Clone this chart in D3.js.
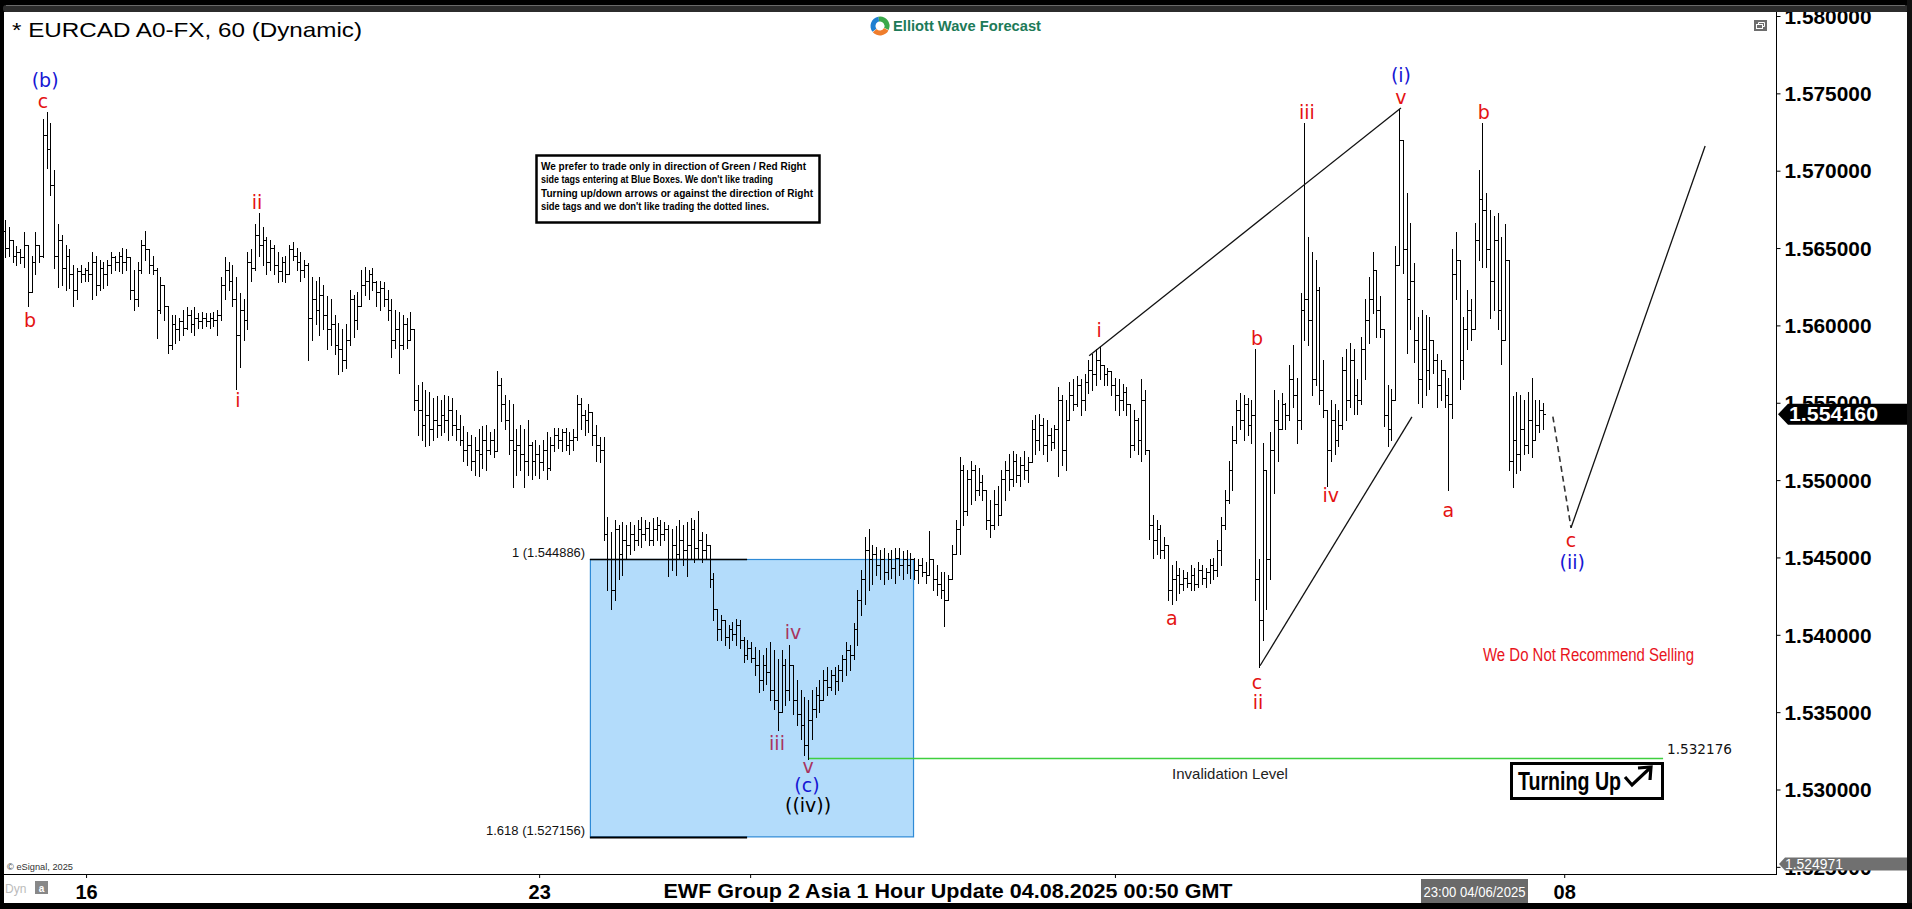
<!DOCTYPE html>
<html>
<head>
<meta charset="utf-8">
<title>EURCAD 1 Hour</title>
<script src="https://cdn.jsdelivr.net/npm/d3@7/dist/d3.min.js"></script>
<style>
html,body{margin:0;padding:0;background:#000;overflow:hidden;}
svg{display:block;}
</style>
</head>
<body>
<svg id="chart" width="1912" height="909"></svg>
<script>
// ---------------- DATA (hourly OHLC bars) ----------------
const opens = [
1.5659,1.5648,1.5653,1.5643,1.5645,1.5642,1.5650,1.5620,1.5639,1.5650,
1.5643,1.5720,1.5711,1.5688,1.5643,1.5653,1.5635,1.5643,1.5631,1.5621,
1.5633,1.5631,1.5634,1.5631,1.5639,1.5624,1.5635,1.5631,1.5637,1.5642,
1.5639,1.5643,1.5639,1.5642,1.5621,1.5615,1.5634,1.5650,1.5647,1.5637,
1.5634,1.5608,1.5624,1.5611,1.5586,1.5599,1.5596,1.5601,1.5597,1.5605,
1.5599,1.5603,1.5601,1.5603,1.5601,1.5603,1.5602,1.5605,1.5624,1.5634,
1.5627,1.5615,1.5592,1.5608,1.5602,1.5639,1.5635,1.5656,1.5650,1.5653,
1.5639,1.5648,1.5637,1.5633,1.5639,1.5631,1.5647,1.5643,1.5639,1.5634,
1.5637,1.5603,1.5615,1.5608,1.5618,1.5605,1.5596,1.5599,1.5586,1.5583,
1.5576,1.5589,1.5615,1.5602,1.5611,1.5624,1.5627,1.5631,1.5626,1.5620,
1.5622,1.5615,1.5608,1.5589,1.5596,1.5586,1.5599,1.5589,1.5596,1.5551,
1.5544,1.5535,1.5541,1.5532,1.5538,1.5535,1.5541,1.5538,1.5544,1.5535,
1.5532,1.5525,1.5519,1.5522,1.5512,1.5519,1.5516,1.5525,1.5519,1.5525,
1.5518,1.5560,1.5548,1.5538,1.5525,1.5519,1.5522,1.5516,1.5512,1.5522,
1.5512,1.5516,1.5511,1.5519,1.5507,1.5522,1.5528,1.5525,1.5530,1.5522,
1.5525,1.5527,1.5548,1.5541,1.5538,1.5543,1.5528,1.5522,1.5519,1.5465,
1.5449,1.5429,1.5468,1.5452,1.5461,1.5458,1.5465,1.5461,1.5468,1.5465,
1.5469,1.5461,1.5468,1.5471,1.5465,1.5468,1.5449,1.5458,1.5452,1.5461,
1.5455,1.5458,1.5468,1.5456,1.5461,1.5455,1.5458,1.5436,1.5417,1.5404,
1.5410,1.5399,1.5404,1.5401,1.5407,1.5397,1.5388,1.5392,1.5386,1.5381,
1.5372,1.5381,1.5377,1.5365,1.5359,1.5351,1.5381,1.5365,1.5381,1.5359,
1.5350,1.5343,1.5330,1.5346,1.5353,1.5362,1.5359,1.5372,1.5367,1.5375,
1.5371,1.5378,1.5385,1.5391,1.5388,1.5404,1.5423,1.5436,1.5455,1.5449,
1.5452,1.5445,1.5449,1.5441,1.5449,1.5443,1.5450,1.5445,1.5449,1.5445,
1.5449,1.5442,1.5445,1.5441,1.5439,1.5449,1.5436,1.5433,1.5429,1.5423,
1.5436,1.5452,1.5468,1.5506,1.5480,1.5500,1.5506,1.5493,1.5498,1.5493,
1.5474,1.5471,1.5484,1.5477,1.5500,1.5506,1.5500,1.5512,1.5503,1.5509,
1.5506,1.5511,1.5532,1.5525,1.5535,1.5522,1.5528,1.5524,1.5532,1.5551,
1.5519,1.5538,1.5554,1.5548,1.5560,1.5551,1.5562,1.5570,1.5567,1.5576,
1.5573,1.5567,1.5569,1.5560,1.5554,1.5551,1.5556,1.5548,1.5522,1.5538,
1.5525,1.5551,1.5519,1.5471,1.5461,1.5468,1.5455,1.5458,1.5429,1.5436,
1.5439,1.5433,1.5437,1.5434,1.5439,1.5433,1.5442,1.5437,1.5441,1.5445,
1.5442,1.5455,1.5471,1.5487,1.5506,1.5525,1.5544,1.5538,1.5548,1.5535,
1.5541,1.5436,1.5410,1.5506,1.5449,1.5519,1.5538,1.5532,1.5548,1.5541,
1.5564,1.5554,1.5538,1.5608,1.5615,1.5602,1.5564,1.5621,1.5557,1.5544,
1.5519,1.5538,1.5525,1.5535,1.5570,1.5551,1.5576,1.5554,1.5551,1.5583,
1.5602,1.5615,1.5634,1.5608,1.5596,1.5541,1.5532,1.5551,1.5637,1.5717,
1.5647,1.5615,1.5627,1.5589,1.5564,1.5583,1.5570,1.5589,1.5576,1.5560,
1.5570,1.5554,1.5548,1.5631,1.5640,1.5576,1.5596,1.5608,1.5596,1.5653,
1.5679,1.5672,1.5647,1.5627,1.5653,1.5608,1.5589,1.5640,1.5512,1.5525,
1.5516,1.5532,1.5522,1.5538,1.5525,1.5535,1.5544];

const highs = [
1.5666,1.5661,1.5653,1.5649,1.5647,1.5658,1.5650,1.5643,1.5658,1.5650,
1.5730,1.5735,1.5728,1.5698,1.5663,1.5656,1.5650,1.5647,1.5637,1.5635,
1.5637,1.5635,1.5639,1.5645,1.5643,1.5640,1.5639,1.5640,1.5645,1.5643,
1.5645,1.5648,1.5647,1.5642,1.5634,1.5639,1.5653,1.5659,1.5647,1.5643,
1.5635,1.5629,1.5624,1.5611,1.5605,1.5605,1.5603,1.5608,1.5610,1.5608,
1.5610,1.5606,1.5607,1.5606,1.5606,1.5607,1.5608,1.5629,1.5642,1.5639,
1.5637,1.5629,1.5619,1.5615,1.5645,1.5647,1.5663,1.5670,1.5661,1.5655,
1.5653,1.5650,1.5645,1.5642,1.5643,1.5650,1.5652,1.5648,1.5645,1.5640,
1.5638,1.5629,1.5627,1.5629,1.5624,1.5617,1.5615,1.5605,1.5600,1.5596,
1.5599,1.5621,1.5618,1.5620,1.5634,1.5636,1.5634,1.5635,1.5627,1.5627,
1.5626,1.5621,1.5615,1.5608,1.5607,1.5605,1.5603,1.5607,1.5596,1.5560,
1.5562,1.5557,1.5556,1.5552,1.5553,1.5551,1.5554,1.5553,1.5552,1.5544,
1.5541,1.5534,1.5530,1.5528,1.5527,1.5532,1.5534,1.5535,1.5530,1.5532,
1.5569,1.5565,1.5554,1.5551,1.5548,1.5532,1.5535,1.5532,1.5538,1.5524,
1.5525,1.5522,1.5525,1.5530,1.5527,1.5533,1.5533,1.5532,1.5533,1.5530,
1.5532,1.5554,1.5552,1.5544,1.5548,1.5543,1.5535,1.5527,1.5527,1.5476,
1.5466,1.5474,1.5471,1.5473,1.5471,1.5473,1.5471,1.5474,1.5476,1.5474,
1.5473,1.5475,1.5476,1.5474,1.5473,1.5471,1.5468,1.5470,1.5474,1.5471,
1.5473,1.5475,1.5474,1.5480,1.5466,1.5465,1.5458,1.5440,1.5417,1.5413,
1.5410,1.5407,1.5409,1.5411,1.5410,1.5399,1.5397,1.5396,1.5393,1.5391,
1.5388,1.5392,1.5396,1.5391,1.5385,1.5391,1.5385,1.5394,1.5381,1.5372,
1.5365,1.5361,1.5359,1.5365,1.5367,1.5372,1.5378,1.5380,1.5378,1.5380,
1.5381,1.5388,1.5396,1.5394,1.5408,1.5429,1.5442,1.5463,1.5468,1.5458,
1.5457,1.5455,1.5456,1.5453,1.5455,1.5456,1.5456,1.5454,1.5455,1.5453,
1.5450,1.5449,1.5450,1.5447,1.5467,1.5449,1.5445,1.5441,1.5441,1.5439,
1.5458,1.5474,1.5514,1.5509,1.5506,1.5512,1.5509,1.5507,1.5503,1.5493,
1.5487,1.5493,1.5496,1.5506,1.5512,1.5516,1.5518,1.5516,1.5514,1.5518,
1.5514,1.5538,1.5541,1.5542,1.5539,1.5538,1.5533,1.5535,1.5559,1.5554,
1.5551,1.5562,1.5564,1.5566,1.5564,1.5567,1.5576,1.5580,1.5583,1.5585,
1.5573,1.5571,1.5569,1.5565,1.5564,1.5561,1.5559,1.5548,1.5544,1.5539,
1.5564,1.5557,1.5519,1.5477,1.5474,1.5471,1.5463,1.5458,1.5445,1.5448,
1.5443,1.5442,1.5441,1.5445,1.5443,1.5447,1.5445,1.5443,1.5449,1.5450,
1.5461,1.5476,1.5493,1.5512,1.5534,1.5551,1.5555,1.5554,1.5552,1.5551,
1.5583,1.5449,1.5523,1.5506,1.5530,1.5557,1.5551,1.5555,1.5549,1.5573,
1.5586,1.5565,1.5619,1.5728,1.5655,1.5645,1.5640,1.5623,1.5576,1.5544,
1.5551,1.5548,1.5544,1.5578,1.5583,1.5587,1.5583,1.5564,1.5591,1.5615,
1.5629,1.5645,1.5634,1.5617,1.5596,1.5560,1.5558,1.5649,1.5737,1.5717,
1.5683,1.5664,1.5638,1.5604,1.5608,1.5605,1.5604,1.5589,1.5580,1.5576,
1.5570,1.5565,1.5647,1.5658,1.5640,1.5604,1.5621,1.5615,1.5664,1.5698,
1.5728,1.5683,1.5672,1.5668,1.5670,1.5655,1.5663,1.5640,1.5553,1.5556,
1.5554,1.5551,1.5556,1.5565,1.5551,1.5551,1.5549];

const lows = [
1.5642,1.5643,1.5639,1.5637,1.5638,1.5636,1.5611,1.5620,1.5631,1.5639,
1.5642,1.5699,1.5682,1.5635,1.5623,1.5624,1.5621,1.5622,1.5611,1.5615,
1.5626,1.5627,1.5627,1.5615,1.5618,1.5621,1.5622,1.5624,1.5632,1.5634,
1.5633,1.5632,1.5634,1.5615,1.5608,1.5611,1.5632,1.5640,1.5632,1.5631,
1.5590,1.5606,1.5602,1.5581,1.5583,1.5587,1.5589,1.5592,1.5596,1.5594,
1.5592,1.5597,1.5597,1.5598,1.5597,1.5598,1.5592,1.5602,1.5615,1.5621,
1.5611,1.5558,1.5572,1.5589,1.5596,1.5627,1.5634,1.5643,1.5637,1.5631,
1.5634,1.5631,1.5626,1.5627,1.5626,1.5631,1.5640,1.5634,1.5627,1.5629,
1.5576,1.5589,1.5599,1.5592,1.5596,1.5583,1.5586,1.5580,1.5567,1.5569,
1.5571,1.5586,1.5591,1.5596,1.5611,1.5618,1.5615,1.5621,1.5611,1.5608,
1.5611,1.5602,1.5578,1.5584,1.5568,1.5583,1.5584,1.5589,1.5544,1.5528,
1.5525,1.5521,1.5522,1.5525,1.5527,1.5528,1.5530,1.5525,1.5528,1.5525,
1.5522,1.5512,1.5509,1.5506,1.5503,1.5502,1.5507,1.5506,1.5516,1.5514,
1.5518,1.5537,1.5532,1.5516,1.5495,1.5503,1.5506,1.5495,1.5503,1.5500,
1.5503,1.5501,1.5506,1.5500,1.5506,1.5518,1.5520,1.5518,1.5519,1.5516,
1.5519,1.5525,1.5532,1.5528,1.5530,1.5522,1.5512,1.5511,1.5461,1.5429,
1.5417,1.5423,1.5436,1.5439,1.5449,1.5452,1.5455,1.5458,1.5457,1.5461,
1.5458,1.5458,1.5461,1.5458,1.5461,1.5438,1.5442,1.5439,1.5449,1.5445,
1.5438,1.5449,1.5447,1.5449,1.5447,1.5449,1.5431,1.5410,1.5397,1.5397,
1.5394,1.5392,1.5397,1.5394,1.5392,1.5383,1.5385,1.5383,1.5375,1.5364,
1.5365,1.5369,1.5359,1.5353,1.5340,1.5351,1.5356,1.5359,1.5350,1.5343,
1.5334,1.5324,1.5321,1.5334,1.5348,1.5351,1.5359,1.5362,1.5365,1.5363,
1.5365,1.5371,1.5375,1.5378,1.5385,1.5394,1.5413,1.5420,1.5429,1.5433,
1.5439,1.5436,1.5433,1.5436,1.5437,1.5434,1.5439,1.5436,1.5440,1.5437,
1.5436,1.5434,1.5438,1.5434,1.5439,1.5429,1.5426,1.5424,1.5406,1.5423,
1.5436,1.5452,1.5452,1.5471,1.5477,1.5484,1.5487,1.5490,1.5487,1.5468,
1.5463,1.5468,1.5471,1.5477,1.5487,1.5493,1.5496,1.5498,1.5496,1.5500,
1.5498,1.5511,1.5516,1.5519,1.5516,1.5512,1.5519,1.5520,1.5502,1.5509,
1.5506,1.5538,1.5544,1.5547,1.5541,1.5544,1.5555,1.5557,1.5560,1.5564,
1.5560,1.5560,1.5554,1.5544,1.5541,1.5544,1.5541,1.5514,1.5519,1.5516,
1.5512,1.5516,1.5462,1.5450,1.5452,1.5450,1.5450,1.5423,1.5420,1.5423,
1.5427,1.5429,1.5431,1.5429,1.5429,1.5431,1.5433,1.5431,1.5434,1.5436,
1.5438,1.5445,1.5468,1.5485,1.5493,1.5523,1.5532,1.5525,1.5528,1.5523,
1.5423,1.5380,1.5397,1.5417,1.5436,1.5491,1.5512,1.5532,1.5532,1.5538,
1.5546,1.5523,1.5532,1.5589,1.5586,1.5554,1.5560,1.5548,1.5540,1.5496,
1.5512,1.5516,1.5521,1.5532,1.5538,1.5546,1.5542,1.5542,1.5548,1.5564,
1.5587,1.5606,1.5591,1.5591,1.5534,1.5521,1.5525,1.5551,1.5637,1.5632,
1.5581,1.5596,1.5575,1.5549,1.5546,1.5554,1.5558,1.5568,1.5546,1.5551,
1.5546,1.5493,1.5539,1.5615,1.5558,1.5564,1.5583,1.5589,1.5596,1.5640,
1.5636,1.5636,1.5603,1.5608,1.5596,1.5574,1.5589,1.5506,1.5495,1.5504,
1.5506,1.5516,1.5517,1.5514,1.5525,1.5530,1.5532];

const closes = [
1.5648,1.5653,1.5643,1.5645,1.5642,1.5650,1.5620,1.5639,1.5650,1.5643,
1.5720,1.5711,1.5688,1.5643,1.5653,1.5635,1.5643,1.5631,1.5621,1.5633,
1.5631,1.5634,1.5631,1.5639,1.5624,1.5635,1.5631,1.5637,1.5642,1.5639,
1.5643,1.5639,1.5642,1.5621,1.5615,1.5634,1.5650,1.5647,1.5637,1.5634,
1.5608,1.5624,1.5611,1.5586,1.5599,1.5596,1.5601,1.5597,1.5605,1.5599,
1.5603,1.5601,1.5603,1.5601,1.5603,1.5602,1.5605,1.5624,1.5634,1.5627,
1.5615,1.5592,1.5608,1.5602,1.5639,1.5635,1.5656,1.5650,1.5653,1.5639,
1.5648,1.5637,1.5633,1.5639,1.5631,1.5647,1.5643,1.5639,1.5634,1.5637,
1.5603,1.5615,1.5608,1.5618,1.5605,1.5596,1.5599,1.5586,1.5583,1.5576,
1.5589,1.5615,1.5602,1.5611,1.5624,1.5627,1.5631,1.5626,1.5620,1.5622,
1.5615,1.5608,1.5589,1.5596,1.5586,1.5599,1.5589,1.5596,1.5551,1.5544,
1.5535,1.5541,1.5532,1.5538,1.5535,1.5541,1.5538,1.5544,1.5535,1.5532,
1.5525,1.5519,1.5522,1.5512,1.5519,1.5516,1.5525,1.5519,1.5525,1.5518,
1.5560,1.5548,1.5538,1.5525,1.5519,1.5522,1.5516,1.5512,1.5522,1.5512,
1.5516,1.5511,1.5519,1.5507,1.5522,1.5528,1.5525,1.5530,1.5522,1.5525,
1.5527,1.5548,1.5541,1.5538,1.5543,1.5528,1.5522,1.5519,1.5465,1.5449,
1.5429,1.5468,1.5452,1.5461,1.5458,1.5465,1.5461,1.5468,1.5465,1.5469,
1.5461,1.5468,1.5471,1.5465,1.5468,1.5449,1.5458,1.5452,1.5461,1.5455,
1.5458,1.5468,1.5456,1.5461,1.5455,1.5458,1.5436,1.5417,1.5404,1.5410,
1.5399,1.5404,1.5401,1.5407,1.5397,1.5388,1.5392,1.5386,1.5381,1.5372,
1.5381,1.5377,1.5365,1.5359,1.5351,1.5381,1.5365,1.5381,1.5359,1.5350,
1.5343,1.5330,1.5346,1.5353,1.5362,1.5359,1.5372,1.5367,1.5375,1.5371,
1.5378,1.5385,1.5391,1.5388,1.5404,1.5423,1.5436,1.5455,1.5449,1.5452,
1.5445,1.5449,1.5441,1.5449,1.5443,1.5450,1.5445,1.5449,1.5445,1.5449,
1.5442,1.5445,1.5441,1.5439,1.5449,1.5436,1.5433,1.5429,1.5423,1.5436,
1.5452,1.5468,1.5506,1.5480,1.5500,1.5506,1.5493,1.5498,1.5493,1.5474,
1.5471,1.5484,1.5477,1.5500,1.5506,1.5500,1.5512,1.5503,1.5509,1.5506,
1.5511,1.5532,1.5525,1.5535,1.5522,1.5528,1.5524,1.5532,1.5551,1.5519,
1.5538,1.5554,1.5548,1.5560,1.5551,1.5562,1.5570,1.5567,1.5576,1.5573,
1.5567,1.5569,1.5560,1.5554,1.5551,1.5556,1.5548,1.5522,1.5538,1.5525,
1.5551,1.5519,1.5471,1.5461,1.5468,1.5455,1.5458,1.5429,1.5436,1.5439,
1.5433,1.5437,1.5434,1.5439,1.5433,1.5442,1.5437,1.5441,1.5445,1.5442,
1.5455,1.5471,1.5487,1.5506,1.5525,1.5544,1.5538,1.5548,1.5535,1.5541,
1.5436,1.5410,1.5506,1.5449,1.5519,1.5538,1.5532,1.5548,1.5541,1.5564,
1.5554,1.5538,1.5608,1.5615,1.5602,1.5564,1.5621,1.5557,1.5544,1.5519,
1.5538,1.5525,1.5535,1.5570,1.5551,1.5576,1.5554,1.5551,1.5583,1.5602,
1.5615,1.5634,1.5608,1.5596,1.5541,1.5532,1.5551,1.5637,1.5717,1.5647,
1.5615,1.5627,1.5589,1.5564,1.5583,1.5570,1.5589,1.5576,1.5560,1.5570,
1.5554,1.5548,1.5631,1.5640,1.5576,1.5596,1.5608,1.5596,1.5653,1.5679,
1.5672,1.5647,1.5627,1.5653,1.5608,1.5589,1.5640,1.5512,1.5525,1.5516,
1.5532,1.5522,1.5538,1.5525,1.5535,1.5544,1.55416];

// price axis
const yTickValues = [1.580,1.575,1.570,1.565,1.560,1.555,1.550,1.545,1.540,1.535,1.530,1.525];
const yDomain = [1.52477, 1.57987];
const lastPrice = 1.554160;
const lowestVisible = 1.524971;

// time axis (bar index of each date tick, label)
const dateTickBars = [21.4, 141, 196.7, 293, 411.6];
const dateTickLabels = ["16", "23", "", "", "08"];

// Elliott wave labels (bar position, price, text, colour role)
const waveText  = ["(b)","c","b","i","ii","iv","iii","v","(c)","((iv))","i","a","b","c","ii","iii","iv","(i)","v","a","b","c","(ii)"];
const waveBar   = [10.6,10.0,6.6,61.5,66.5,208,203.8,212,211.7,212,288.8,308,330.5,330.5,330.8,343.7,350,368.5,368.5,381,390.4,413.4,413.7];
const wavePrice = [1.57553,1.57419,1.56019,1.55508,1.56773,1.54025,1.53316,1.53166,1.53043,1.52915,1.55955,1.54115,1.55904,1.53706,1.53578,1.57348,1.54901,1.57585,1.57444,1.54805,1.57348,1.54613,1.54473];
const waveRole  = ["blue","red","red","red","red","box","box","box","blue","black","red","red","red","red","red","red","red","blue","red","red","red","red","blue"];

// diagonal (wedge) lines: [startBar, endBar], [startPrice, endPrice]
const wedgeBars   = [[286.2, 368.5], [331.3, 371.4]];
const wedgePrices = [[1.55789, 1.57374], [1.53808, 1.55399]];

// projected path
const projBars   = [408.6, 413.4, 448.8];
const projPrices = [1.55401, 1.54690, 1.57131];

// blue box / fibonacci extension
const fibLevels  = [1.544886, 1.527156];
const fibLabels  = ["1 (1.544886)", "1.618 (1.527156)"];
const fibBoxBars = [154.4, 239.7];
const fibLineEnd = 195.9;

// invalidation level
const invalidation = 1.532176;
const invalidationBars = [212, 437.7];

// ---------------- CHART ----------------
const W = 1912, H = 909;
const PL = 4, PR = 1776, PT = 12, PB = 874;
const N = Math.min(opens.length, highs.length, lows.length, closes.length);

const x = d3.scaleLinear().domain([0, N - 1]).range([5, 1543]);
const y = d3.scaleLinear().domain(yDomain).range([PB, PT]);
// the price-axis labels of the source sit on a slightly tighter grid than the plotted data
const yLabel = d3.scaleLinear().domain([1.580, 1.530]).range([16, 789.5]);

const svg = d3.select("#chart");
svg.append("rect").attr("width", W).attr("height", H).attr("fill", "#000");
svg.append("rect").attr("x", 4).attr("y", 12).attr("width", 1903).attr("height", 891).attr("fill", "#fff");

const defs = svg.append("defs");
defs.append("clipPath").attr("id", "plotClip")
  .append("rect").attr("x", PL).attr("y", PT).attr("width", PR - PL).attr("height", PB - PT);

const plot = svg.append("g").attr("clip-path", "url(#plotClip)");

// blue box
plot.append("rect")
  .attr("x", x(fibBoxBars[0]) + 0.5)
  .attr("y", Math.round(y(fibLevels[0])) + 0.5)
  .attr("width", x(fibBoxBars[1]) - x(fibBoxBars[0]))
  .attr("height", y(fibLevels[1]) - y(fibLevels[0]))
  .attr("fill", "#b3dcfb")
  .attr("stroke", "#2e8ad6")
  .attr("stroke-width", 1.2);

// fib lines
plot.selectAll("line.fib").data(fibLevels).join("line")
  .attr("class", "fib")
  .attr("x1", x(fibBoxBars[0])).attr("x2", x(fibLineEnd))
  .attr("y1", d => Math.round(y(d)) + 0.5).attr("y2", d => Math.round(y(d)) + 0.5)
  .attr("stroke", "#000").attr("stroke-width", (d, i) => i === 0 ? 1.3 : 2);

svg.selectAll("text.fibl").data(fibLevels).join("text")
  .attr("class", "fibl")
  .attr("x", 585).attr("y", d => y(d) - 6)
  .attr("text-anchor", "end").attr("dominant-baseline", "central")
  .attr("font-family", "Liberation Sans, Arial, sans-serif").attr("font-size", 12.5)
  .attr("fill", "#111")
  .attr("textLength", (d, i) => i === 0 ? 73 : 99).attr("lengthAdjust", "spacingAndGlyphs")
  .text((d, i) => fibLabels[i]);

// invalidation line
plot.append("line")
  .attr("x1", x(invalidationBars[0])).attr("x2", x(invalidationBars[1]))
  .attr("y1", Math.round(y(invalidation)) + 0.5).attr("y2", Math.round(y(invalidation)) + 0.5)
  .attr("stroke", "#3fcf3f").attr("stroke-width", 1.6);

// OHLC bars
const bars = plot.append("g").attr("stroke", "#000").attr("stroke-width", 1).attr("shape-rendering", "crispEdges");
const idx = d3.range(N);
const bx = i => Math.round(x(i)) + 0.5;
bars.selectAll("line.hl").data(idx).join("line").attr("class", "hl")
  .attr("x1", bx).attr("x2", bx)
  .attr("y1", i => Math.round(y(highs[i]))).attr("y2", i => Math.round(y(lows[i])) + 1);
bars.selectAll("line.op").data(idx).join("line").attr("class", "op")
  .attr("x1", i => bx(i) - 2).attr("x2", i => bx(i))
  .attr("y1", i => Math.round(y(opens[i])) + 0.5).attr("y2", i => Math.round(y(opens[i])) + 0.5);
bars.selectAll("line.cl").data(idx).join("line").attr("class", "cl")
  .attr("x1", i => bx(i)).attr("x2", i => bx(i) + 2)
  .attr("y1", i => Math.round(y(closes[i])) + 0.5).attr("y2", i => Math.round(y(closes[i])) + 0.5);

// wedge lines
plot.selectAll("line.wedge").data(wedgeBars).join("line").attr("class", "wedge")
  .attr("x1", d => x(d[0])).attr("x2", d => x(d[1]))
  .attr("y1", (d, i) => y(wedgePrices[i][0])).attr("y2", (d, i) => y(wedgePrices[i][1]))
  .attr("stroke", "#111").attr("stroke-width", 1.3);

// projection
plot.append("line")
  .attr("x1", x(projBars[0])).attr("y1", y(projPrices[0]))
  .attr("x2", x(projBars[1])).attr("y2", y(projPrices[1]))
  .attr("stroke", "#333").attr("stroke-width", 1.6).attr("stroke-dasharray", "6,4");
plot.append("line")
  .attr("x1", x(projBars[1])).attr("y1", y(projPrices[1]))
  .attr("x2", x(projBars[2])).attr("y2", y(projPrices[2]))
  .attr("stroke", "#111").attr("stroke-width", 1.3);

// wave labels
const roleColor = { red: "#e41212", blue: "#1616d4", black: "#000", box: "#a8345f" };
plot.selectAll("text.wave").data(waveText).join("text").attr("class", "wave")
  .attr("x", (d, i) => x(waveBar[i])).attr("y", (d, i) => y(wavePrice[i]))
  .attr("text-anchor", "middle").attr("dominant-baseline", "central")
  .attr("font-family", "DejaVu Sans, Verdana, sans-serif").attr("font-size", 19)
  .attr("fill", (d, i) => roleColor[waveRole[i]])
  .text(d => d);

// notes in plot
svg.append("text").attr("x", 1230).attr("y", 773).attr("text-anchor", "middle").attr("dominant-baseline", "central")
  .attr("font-family", "Liberation Sans, Arial, sans-serif").attr("font-size", 15).attr("fill", "#222")
  .text("Invalidation Level");
svg.append("text").attr("x", 1667).attr("y", 749).attr("dominant-baseline", "central")
  .attr("font-family", "DejaVu Sans, Verdana, sans-serif").attr("font-size", 14).attr("fill", "#111")
  .attr("textLength", 65).attr("lengthAdjust", "spacingAndGlyphs")
  .text(d3.format(".6f")(invalidation));
svg.append("text").attr("x", 1483).attr("y", 655).attr("dominant-baseline", "central")
  .attr("font-family", "Liberation Sans, Arial, sans-serif").attr("font-size", 18).attr("fill", "#e8141c")
  .attr("textLength", 211).attr("lengthAdjust", "spacingAndGlyphs")
  .text("We Do Not Recommend Selling");

// Turning Up box
svg.append("rect").attr("x", 1511.5).attr("y", 763.5).attr("width", 151).attr("height", 35)
  .attr("fill", "#fff").attr("stroke", "#000").attr("stroke-width", 3);
svg.append("text").attr("x", 1518).attr("y", 790)
  .attr("font-family", "Liberation Sans Narrow, Arial Narrow, sans-serif").attr("font-weight", "bold").attr("font-size", 26)
  .attr("fill", "#000").attr("textLength", 103).attr("lengthAdjust", "spacingAndGlyphs")
  .text("Turning Up");
svg.append("path").attr("d", "M1625,777 L1632,785 L1650,768").attr("fill", "none").attr("stroke", "#000").attr("stroke-width", 3.2);
svg.append("path").attr("d", "M1638,768 L1651,767 L1650,780").attr("fill", "none").attr("stroke", "#000").attr("stroke-width", 3.2);

// disclaimer box
const noteLines = [
  "We prefer to trade only in direction of Green / Red Right",
  "side tags entering at Blue Boxes. We don't like trading",
  "Turning up/down arrows or against the direction of Right",
  "side tags and we don't like trading the dotted lines."];
const noteWidths = [265, 232, 272, 228];
svg.append("rect").attr("x", 536.5).attr("y", 155.5).attr("width", 283).attr("height", 67)
  .attr("fill", "#fff").attr("stroke", "#000").attr("stroke-width", 2.5);
svg.selectAll("text.note").data(noteLines).join("text").attr("class", "note")
  .attr("x", 541).attr("y", (d, i) => 166 + i * 13.4).attr("dominant-baseline", "central")
  .attr("font-family", "Liberation Sans, Arial, sans-serif").attr("font-weight", "bold").attr("font-size", 11)
  .attr("fill", "#000").attr("textLength", (d, i) => noteWidths[i]).attr("lengthAdjust", "spacingAndGlyphs")
  .text(d => d);

// right price axis
svg.append("line").attr("x1", PR + 0.5).attr("x2", PR + 0.5).attr("y1", PT).attr("y2", PB + 1).attr("stroke", "#000");
const yAxis = d3.axisRight(yLabel).tickValues(yTickValues).tickFormat(d3.format(".6f")).tickSize(4).tickSizeOuter(0);
const gy = svg.append("g").attr("transform", `translate(${PR + 0.5},0)`).call(yAxis);
gy.select(".domain").remove();
gy.selectAll(".tick line").attr("stroke", "#000");
gy.selectAll(".tick text").attr("x", 8).attr("dy", "0.36em")
  .attr("font-family", "Liberation Sans, Arial, sans-serif").attr("font-weight", "bold").attr("font-size", 20)
  .attr("fill", "#000").attr("textLength", 87).attr("lengthAdjust", "spacingAndGlyphs");

// bottom time axis
svg.append("line").attr("x1", PL).attr("x2", PR + 1).attr("y1", PB + 0.5).attr("y2", PB + 0.5).attr("stroke", "#000");
const xAxis = d3.axisBottom(x).tickValues(dateTickBars).tickFormat((d, i) => dateTickLabels[i]).tickSize(4).tickSizeOuter(0);
const gx = svg.append("g").attr("transform", `translate(0,${PB})`).call(xAxis);
gx.select(".domain").remove();
gx.selectAll(".tick line").attr("stroke", "#000");
gx.selectAll(".tick text").attr("y", 11).attr("dy", "0.71em")
  .attr("font-family", "Liberation Sans Narrow, Arial Narrow, sans-serif").attr("font-weight", "bold").attr("font-size", 20)
  .attr("fill", "#000");

svg.append("text").attr("x", 948).attr("y", 898).attr("text-anchor", "middle")
  .attr("font-family", "Liberation Sans Narrow, Arial Narrow, sans-serif").attr("font-weight", "bold").attr("font-size", 21)
  .attr("fill", "#000").attr("textLength", 569).attr("lengthAdjust", "spacingAndGlyphs")
  .text("EWF Group 2 Asia 1 Hour Update 04.08.2025 00:50 GMT");

svg.append("rect").attr("x", 1421).attr("y", 879).attr("width", 107).attr("height", 24).attr("fill", "#6a6a6a");
svg.append("text").attr("x", 1474.5).attr("y", 891.5).attr("text-anchor", "middle").attr("dominant-baseline", "central")
  .attr("font-family", "Liberation Sans Narrow, Arial Narrow, sans-serif").attr("font-size", 14).attr("fill", "#fff")
  .attr("textLength", 102).attr("lengthAdjust", "spacingAndGlyphs")
  .text("23:00 04/06/2025");

// bottom-left marks
svg.append("text").attr("x", 7).attr("y", 866).attr("dominant-baseline", "central")
  .attr("font-family", "Liberation Sans, Arial, sans-serif").attr("font-size", 9.5).attr("fill", "#333")
  .attr("textLength", 66).attr("lengthAdjust", "spacingAndGlyphs")
  .text("© eSignal, 2025");
svg.append("text").attr("x", 5).attr("y", 889).attr("dominant-baseline", "central")
  .attr("font-family", "Liberation Sans, Arial, sans-serif").attr("font-size", 12).attr("fill", "#bbb")
  .text("Dyn");
svg.append("rect").attr("x", 35).attr("y", 881).attr("width", 13).attr("height", 13).attr("fill", "#888");
svg.append("text").attr("x", 41.5).attr("y", 888).attr("text-anchor", "middle").attr("dominant-baseline", "central")
  .attr("font-family", "Liberation Sans, Arial, sans-serif").attr("font-size", 10).attr("font-weight", "bold").attr("fill", "#fff")
  .text("a");

// current price tag
const yp = y(lastPrice);
svg.append("path")
  .attr("d", `M1778,${yp} L1788,${yp - 10.5} L1907,${yp - 10.5} L1907,${yp + 10.5} L1788,${yp + 10.5} Z`)
  .attr("fill", "#000");
svg.append("text").attr("x", 1789).attr("y", yp).attr("dy", "0.36em")
  .attr("font-family", "Liberation Sans, Arial, sans-serif").attr("font-weight", "bold").attr("font-size", 20)
  .attr("fill", "#fff").attr("textLength", 89).attr("lengthAdjust", "spacingAndGlyphs")
  .text(d3.format(".6f")(lastPrice));

// lowest visible price tag
const yl = Math.min(y(lowestVisible), PB - 10);
svg.append("path")
  .attr("d", `M1779,${yl} L1785,${yl - 6.5} L1907,${yl - 6.5} L1907,${yl + 6.5} L1785,${yl + 6.5} Z`)
  .attr("fill", "#707070");
svg.append("text").attr("x", 1785).attr("y", yl).attr("dominant-baseline", "central")
  .attr("font-family", "Liberation Sans Narrow, Arial Narrow, sans-serif").attr("font-size", 14).attr("fill", "#fff")
  .attr("textLength", 58).attr("lengthAdjust", "spacingAndGlyphs")
  .text(d3.format(".6f")(lowestVisible));

// title and logo
svg.append("text").attr("x", 12).attr("y", 37)
  .attr("font-family", "Liberation Sans, Arial, sans-serif").attr("font-size", 21).attr("fill", "#000")
  .attr("textLength", 350).attr("lengthAdjust", "spacingAndGlyphs")
  .text("* EURCAD A0-FX, 60 (Dynamic)");

const logo = svg.append("g").attr("transform", "translate(880,26)");
const arc = d3.arc().innerRadius(4.5).outerRadius(9.5);
const logoSegs = [[-0.2, 2.0, "#3aa84a"], [2.05, 4.0, "#ef7d2c"], [4.05, 6.1, "#1e7fd0"]];
logo.selectAll("path").data(logoSegs).join("path")
  .attr("d", d => arc({ startAngle: d[0], endAngle: d[1] }))
  .attr("fill", d => d[2]);
svg.append("text").attr("x", 893).attr("y", 31)
  .attr("font-family", "Liberation Sans, Arial, sans-serif").attr("font-weight", "bold").attr("font-size", 15)
  .attr("fill", "#1d7a58").attr("textLength", 148).attr("lengthAdjust", "spacingAndGlyphs")
  .text("Elliott Wave Forecast");

// restore icon
svg.append("rect").attr("x", 1754).attr("y", 20).attr("width", 13).attr("height", 11).attr("fill", "#6d6d6d");
svg.append("rect").attr("x", 1756.5).attr("y", 24.5).attr("width", 6).attr("height", 4).attr("fill", "none").attr("stroke", "#fff").attr("stroke-width", 1);
svg.append("path").attr("d", "M1758.5,24.5 V22.5 H1764.5 V26.5 H1762.5").attr("fill", "none").attr("stroke", "#fff").attr("stroke-width", 1);

// top frame strip (drawn last so it hides the clipped top label)
svg.append("rect").attr("x", 0).attr("y", 0).attr("width", W).attr("height", 5).attr("fill", "#000");
svg.append("rect").attr("x", 3).attr("y", 5).attr("width", 1905).attr("height", 7).attr("rx", 3).attr("fill", "#2c2c2c");
svg.append("line").attr("x1", 6).attr("x2", 1905).attr("y1", 5.5).attr("y2", 5.5).attr("stroke", "#6a6a6a");
svg.append("rect").attr("x", 1907).attr("y", 0).attr("width", 5).attr("height", H).attr("fill", "#111");
svg.append("rect").attr("x", 0).attr("y", 903).attr("width", W).attr("height", 6).attr("fill", "#000");
</script>
</body>
</html>
